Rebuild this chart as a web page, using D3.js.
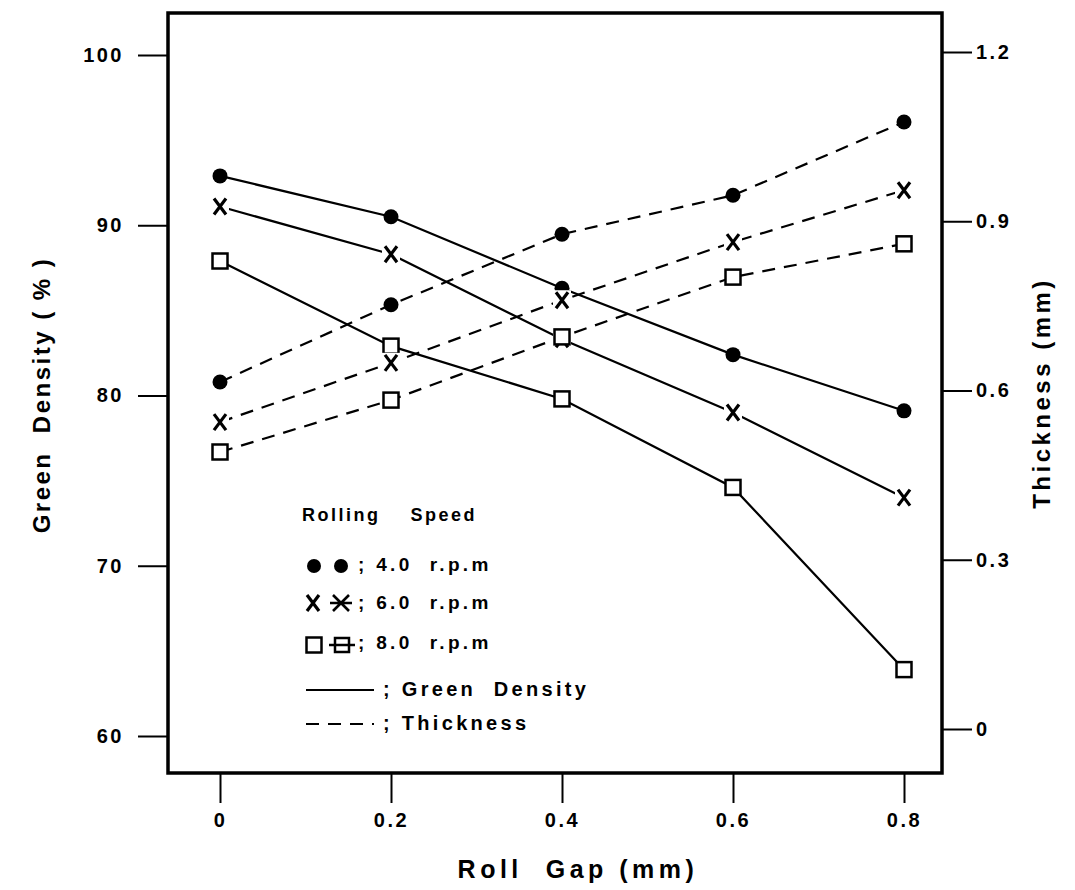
<!DOCTYPE html>
<html>
<head>
<meta charset="utf-8">
<script src="https://cdn.jsdelivr.net/npm/d3@7"></script>
<style>
  body { margin: 0; background: #fff; }
  text { font-family: "Liberation Sans", Arial, sans-serif; font-weight: bold; fill: #000; }
</style>
</head>
<body>
<svg id="chart" width="1075" height="890"></svg>
<script>
// Roll gap (mm) on x
var rollGap = [0, 0.2, 0.4, 0.6, 0.8];

// Green density (%) - solid lines, left axis
var density40 = [92.9, 90.5, 86.3, 82.4, 79.1];
var density60 = [91.1, 88.3, 83.3, 79.0, 74.0];
var density80 = [87.9, 82.9, 79.8, 74.6, 63.9];

// Thickness (mm) - dashed lines, right axis
var thick40 = [0.615, 0.752, 0.877, 0.946, 1.076];
var thick60 = [0.544, 0.649, 0.760, 0.863, 0.955];
var thick80 = [0.491, 0.583, 0.695, 0.801, 0.860];

var xTicks = [0, 0.2, 0.4, 0.6, 0.8];
var leftTicks = [60, 70, 80, 90, 100];
var rightTicks = [0, 0.3, 0.6, 0.9, 1.2];

var svg = d3.select("#chart");

// frame position
var frame = {left: 168, right: 942, top: 13, bottom: 773};

var xScale = d3.scaleLinear().domain([0, 0.8]).range([220, 904]);
var yLeft = d3.scaleLinear().domain([60, 100]).range([736, 55]);
var yRight = d3.scaleLinear().domain([0, 1.2]).range([729, 52]);

var fmt = function(d) { return d === 0 ? "0" : d3.format(".1f")(d); };

// axes
var leftG = svg.append("g")
    .attr("transform", "translate(" + frame.left + ",0)")
    .call(d3.axisLeft(yLeft).tickValues(leftTicks).tickSize(30).tickPadding(14));
var rightG = svg.append("g")
    .attr("transform", "translate(" + frame.right + ",0)")
    .call(d3.axisRight(yRight).tickValues(rightTicks).tickSize(30).tickPadding(4).tickFormat(fmt));
var bottomG = svg.append("g")
    .attr("transform", "translate(0," + frame.bottom + ")")
    .call(d3.axisBottom(xScale).tickValues(xTicks).tickSize(30).tickPadding(10).tickFormat(fmt));

[leftG, rightG, bottomG].forEach(function(g) {
    g.select(".domain").remove();
    g.selectAll(".tick line").attr("stroke", "#000").attr("stroke-width", 2);
    g.selectAll(".tick text")
        .attr("font-size", 20)
        .attr("font-family", "'Liberation Sans', Arial, sans-serif")
        .attr("font-weight", "bold")
        .attr("letter-spacing", 2.5)
        .attr("fill", "#000");
});

// frame
svg.append("rect")
    .attr("x", frame.left)
    .attr("y", frame.top)
    .attr("width", frame.right - frame.left)
    .attr("height", frame.bottom - frame.top)
    .attr("fill", "none")
    .attr("stroke", "#000")
    .attr("stroke-width", 3.5);

// axis titles
svg.append("text")
    .attr("x", 578).attr("y", 878)
    .attr("text-anchor", "middle")
    .attr("font-size", 25)
    .attr("letter-spacing", 4.5)
    .attr("xml:space", "preserve")
    .text("Roll  Gap (mm)");
svg.append("text")
    .attr("transform", "translate(50,395) rotate(-90)")
    .attr("text-anchor", "middle")
    .attr("font-size", 24)
    .attr("letter-spacing", 2.5)
    .attr("xml:space", "preserve")
    .text("Green  Density ( % )");
svg.append("text")
    .attr("transform", "translate(1050,393) rotate(-90)")
    .attr("text-anchor", "middle")
    .attr("font-size", 24)
    .attr("letter-spacing", 3.5)
    .text("Thickness (mm)");

// marker drawing helpers
function drawMarker(g, type, cx, cy) {
    if (type === "circle") {
        g.append("circle").attr("cx", cx).attr("cy", cy).attr("r", 7.5).attr("fill", "#000");
    } else if (type === "x") {
        g.append("rect").attr("x", cx - 9).attr("y", cy - 10).attr("width", 18).attr("height", 20).attr("fill", "#fff");
        g.append("path")
            .attr("d", "M" + (cx - 6) + "," + (cy - 8) + "L" + (cx + 6) + "," + (cy + 8) +
                       "M" + (cx + 6) + "," + (cy - 8) + "L" + (cx - 6) + "," + (cy + 8))
            .attr("stroke", "#000").attr("stroke-width", 3.2).attr("fill", "none");
    } else if (type === "square") {
        g.append("rect").attr("x", cx - 7.5).attr("y", cy - 7.5).attr("width", 15).attr("height", 15)
            .attr("fill", "#fff").attr("stroke", "#000").attr("stroke-width", 2.5);
    }
}

var series = [
    {values: density40, scale: yLeft, dash: null, marker: "circle"},
    {values: density60, scale: yLeft, dash: null, marker: "x"},
    {values: density80, scale: yLeft, dash: null, marker: "square"},
    {values: thick40, scale: yRight, dash: "13,9", marker: "circle"},
    {values: thick60, scale: yRight, dash: "13,9", marker: "x"},
    {values: thick80, scale: yRight, dash: "13,9", marker: "square"}
];

var plotG = svg.append("g").attr("class", "plot");

series.forEach(function(s) {
    var line = d3.line()
        .x(function(d, i) { return xScale(rollGap[i]); })
        .y(function(d) { return s.scale(d); });
    plotG.append("path")
        .datum(s.values)
        .attr("d", line)
        .attr("fill", "none")
        .attr("stroke", "#000")
        .attr("stroke-width", 2.2)
        .attr("stroke-dasharray", s.dash);
});

series.forEach(function(s) {
    s.values.forEach(function(d, i) {
        drawMarker(plotG, s.marker, xScale(rollGap[i]), s.scale(d));
    });
});

// legend
var leg = svg.append("g").attr("class", "legend");
leg.append("text").attr("x", 302).attr("y", 521).attr("font-size", 18).attr("letter-spacing", 2.5)
    .attr("xml:space", "preserve").text("Rolling    Speed");

var legRows = [
    {x: 358, y: 564, size: 19, label: "; 4.0  r.p.m"},
    {x: 358, y: 602, size: 19, label: "; 6.0  r.p.m"},
    {x: 358, y: 642, size: 19, label: "; 8.0  r.p.m"},
    {x: 383, y: 689, size: 20, label: "; Green  Density"},
    {x: 383, y: 723, size: 20, label: "; Thickness"}
];
legRows.forEach(function(r) {
    leg.append("text").attr("x", r.x).attr("y", r.y + 7).attr("font-size", r.size).attr("letter-spacing", 3.3)
        .attr("xml:space", "preserve").text(r.label);
});

// row 1: two filled circles
leg.append("circle").attr("cx", 314).attr("cy", 566).attr("r", 7).attr("fill", "#000");
leg.append("circle").attr("cx", 341).attr("cy", 566).attr("r", 7).attr("fill", "#000");
// row 2: X and starred X
drawMarker(leg, "x", 313, 603);
leg.append("path")
    .attr("d", "M333,595L349,611M349,595L333,611M330,603L352,603")
    .attr("stroke", "#000").attr("stroke-width", 2.6).attr("fill", "none");
// row 3: square and barred square
drawMarker(leg, "square", 314, 645);
leg.append("rect").attr("x", 335).attr("y", 638).attr("width", 14).attr("height", 14)
    .attr("fill", "none").attr("stroke", "#000").attr("stroke-width", 2.5);
leg.append("path").attr("d", "M329,645L355,645").attr("stroke", "#000").attr("stroke-width", 2.5);
// solid and dashed line keys
leg.append("path").attr("d", "M306,690L374,690").attr("stroke", "#000").attr("stroke-width", 2.2);
leg.append("path").attr("d", "M306,724L374,724").attr("stroke", "#000").attr("stroke-width", 2.2)
    .attr("stroke-dasharray", "13,9");
</script>
</body>
</html>
